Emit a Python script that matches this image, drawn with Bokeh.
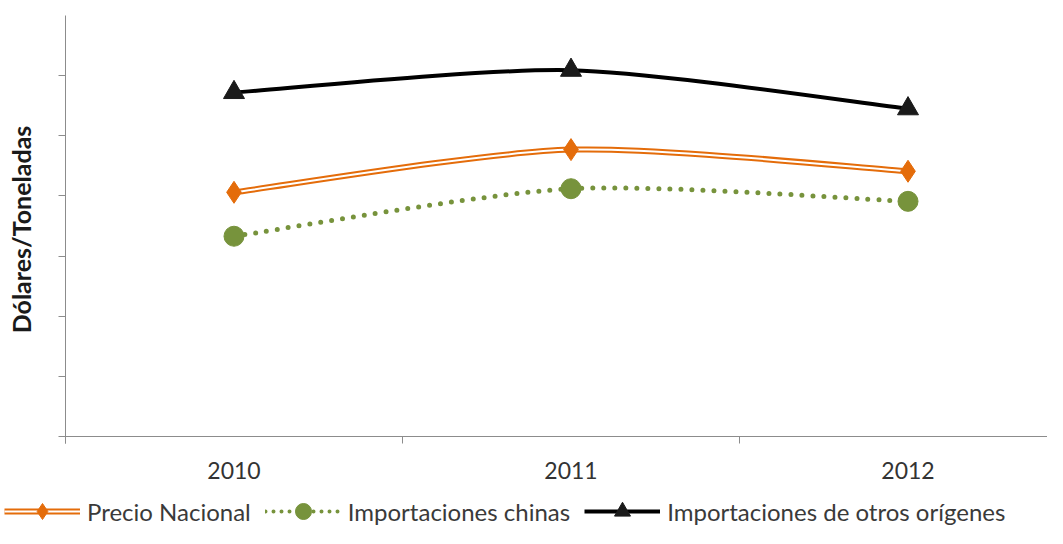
from bokeh.plotting import figure
from bokeh.models import FixedTicker, Legend, LegendItem, Range1d, LinearAxis
from bokeh.embed import file_html
from bokeh.resources import INLINE

years = [2010, 2011, 2012]
precio_nacional = [406, 477, 441]
importaciones_chinas = [333, 412, 391]
importaciones_otros = [572, 609, 545]
series_labels = ["Precio Nacional", "Importaciones chinas", "Importaciones de otros orígenes"]
y_ticks = [0, 100, 200, 300, 400, 500, 600]
y_max = 700
x_first_edge = 2009.5

ORANGE = "#E46C0A"
GREEN = "#77933C"
BLACK = "#000000"
AXIS = "#8C8C8C"
FONT = "Lato"

W, H = 1047, 528
# plot-area geometry (pixels) used only to place the ranges
left_px, top_px, bottom_px, band_px = 65, 15, 436, 337
ppu = (bottom_px - top_px) / y_max
x_start = x_first_edge - left_px / band_px
x_end = x_first_edge + (W - left_px) / band_px
y_start = -(H - bottom_px) / ppu
y_end = y_max + top_px / ppu

p = figure(width=W, height=H, output_backend="svg", toolbar_location=None,
           x_range=Range1d(x_start, x_end), y_range=Range1d(y_start, y_end),
           x_axis_location=None, y_axis_location=None,
           min_border=0, min_border_left=0, min_border_right=0, min_border_top=0, min_border_bottom=0)
p.outline_line_color = None
p.xgrid.visible = False
p.ygrid.visible = False
p.background_fill_color = "white"
p.border_fill_color = "white"


def bezier_parts(xs, ys, t=0.13):
    n = len(xs)
    out = dict(x0=[], y0=[], x1=[], y1=[], cx0=[], cy0=[], cx1=[], cy1=[])
    for i in range(n - 1):
        xp = xs[i - 1] if i > 0 else xs[i]
        yp = ys[i - 1] if i > 0 else ys[i]
        xn = xs[i + 2] if i + 2 < n else xs[i + 1]
        yn = ys[i + 2] if i + 2 < n else ys[i + 1]
        out["x0"].append(xs[i]); out["y0"].append(ys[i])
        out["x1"].append(xs[i + 1]); out["y1"].append(ys[i + 1])
        out["cx0"].append(xs[i] + (xs[i + 1] - xp) * t)
        out["cy0"].append(ys[i] + (ys[i + 1] - yp) * t)
        out["cx1"].append(xs[i + 1] - (xn - xs[i]) * t)
        out["cy1"].append(ys[i + 1] - (yn - ys[i]) * t)
    return out


# axes drawn at fixed locations inside the canvas
xa = LinearAxis(fixed_location=0, bounds=(x_first_edge, x_end))
xa.ticker = FixedTicker(ticks=years, minor_ticks=[2009.5, 2010.5, 2011.5])
xa.major_tick_out = 0
xa.major_tick_in = 0
xa.minor_tick_out = 7
xa.minor_tick_in = 0
xa.minor_tick_line_color = AXIS
xa.axis_line_color = AXIS
xa.major_label_text_font = FONT
xa.major_label_text_font_size = "23px"
xa.major_label_text_color = "#333333"
xa.major_label_standoff = 18
p.add_layout(xa, "below")

ya = LinearAxis(fixed_location=x_first_edge, bounds=(-12, y_max))
ya.ticker = FixedTicker(ticks=y_ticks, minor_ticks=[])
ya.major_tick_out = 7
ya.major_tick_in = 0
ya.major_tick_line_color = AXIS
ya.axis_line_color = AXIS
ya.major_label_overrides = {t: "" for t in y_ticks}
ya.major_label_standoff = 0
ya.axis_label = "Dólares/Toneladas"
ya.axis_label_text_font = FONT
ya.axis_label_text_font_style = "bold"
ya.axis_label_text_font_size = "25px"
ya.axis_label_text_color = "#1a1a1a"
ya.axis_label_standoff = 23
p.add_layout(ya, "left")

# Precio Nacional: double orange line
bp = bezier_parts(years, precio_nacional)
p.bezier(source=bp, x0="x0", y0="y0", x1="x1", y1="y1", cx0="cx0", cy0="cy0", cx1="cx1", cy1="cy1",
         line_color=ORANGE, line_width=6)
p.bezier(source=bp, x0="x0", y0="y0", x1="x1", y1="y1", cx0="cx0", cy0="cy0", cx1="cx1", cy1="cy1",
         line_color="white", line_width=2)
# Importaciones chinas: dotted green
bc = bezier_parts(years, importaciones_chinas)
p.bezier(source=bc, x0="x0", y0="y0", x1="x1", y1="y1", cx0="cx0", cy0="cy0", cx1="cx1", cy1="cy1",
         line_color=GREEN, line_width=5, line_dash="0 11", line_cap="round")
# Importaciones otros: black
bo = bezier_parts(years, importaciones_otros)
p.bezier(source=bo, x0="x0", y0="y0", x1="x1", y1="y1", cx0="cx0", cy0="cy0", cx1="cx1", cy1="cy1",
         line_color=BLACK, line_width=4)

p.scatter(years, precio_nacional, marker="diamond", size=22, color=ORANGE)
p.scatter(years, importaciones_chinas, marker="circle", size=20, color=GREEN)
p.scatter(years, importaciones_otros, marker="triangle", size=21, color="#1a1a1a")

# legend-only renderers (a single non-drawable NaN point each)
nan = [float("nan")]
l1a = p.line(nan, nan, line_color=ORANGE, line_width=6)
l1b = p.line(nan, nan, line_color="white", line_width=2)
m1 = p.scatter(nan, nan, marker="diamond", color=ORANGE)
l2 = p.line(nan, nan, line_color=GREEN, line_width=4, line_dash="0 8", line_cap="round")
m2 = p.scatter(nan, nan, marker="circle", color=GREEN)
l3 = p.line(nan, nan, line_color=BLACK, line_width=4)
m3 = p.scatter(nan, nan, marker="triangle", color="#1a1a1a")

legend = Legend(items=[
    LegendItem(label=series_labels[0], renderers=[l1a, l1b, m1]),
    LegendItem(label=series_labels[1], renderers=[l2, m2]),
    LegendItem(label=series_labels[2], renderers=[l3, m3]),
], orientation="horizontal", location=(4, -3), padding=0, margin=0, spacing=14,
    glyph_width=76, glyph_height=40, label_standoff=7,
    label_text_font=FONT, label_text_font_size="24px", label_text_color="#3a3a3a",
    border_line_color=None, background_fill_alpha=0)
p.add_layout(legend, "center")

open("out.html", "w").write(file_html(p, INLINE))
